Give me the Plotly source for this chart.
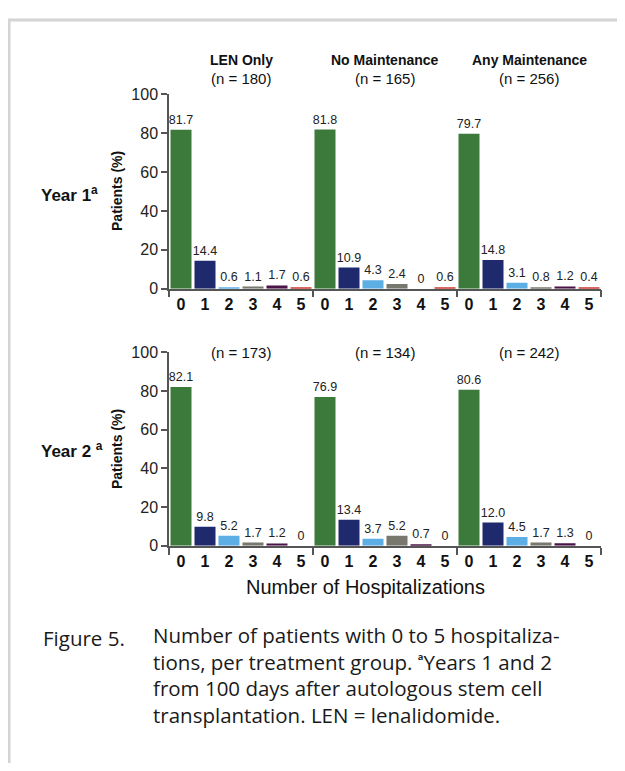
import plotly.graph_objects as go

# page body has an 8px default margin: figure is sized to fit the 625x771 window
OFF = 8
W, H = 625 - 2 * OFF, 771 - 2 * OFF

categories = ["0", "1", "2", "3", "4", "5"]
groups = ["LEN Only", "No Maintenance", "Any Maintenance"]
n_year1 = ["(n = 180)", "(n = 165)", "(n = 256)"]
n_year2 = ["(n = 173)", "(n = 134)", "(n = 242)"]

year1_len = [81.7, 14.4, 0.6, 1.1, 1.7, 0.6]
year1_nomaint = [81.8, 10.9, 4.3, 2.4, 0, 0.6]
year1_any = [79.7, 14.8, 3.1, 0.8, 1.2, 0.4]
year2_len = [82.1, 9.8, 5.2, 1.7, 1.2, 0]
year2_nomaint = [76.9, 13.4, 3.7, 5.2, 0.7, 0]
year2_any = [80.6, 12.0, 4.5, 1.7, 1.3, 0]

bar_colors = ["#3b7a3b", "#1f2a6e", "#5eaee6", "#78786f", "#4a1447", "#c8372d"]

CHART_FONT = "Liberation Sans Narrow, Arial Narrow, Liberation Sans, Arial, sans-serif"
CAP_FONT = "Open Sans, Lato, sans-serif"

def px_x(p):
    return (p - OFF) / W

def px_y(p):
    return 1 - (p - OFF) / H

fig = go.Figure()

rows = [
    ("x", "y", [year1_len, year1_nomaint, year1_any]),
    ("x2", "y2", [year2_len, year2_nomaint, year2_any]),
]
for xa, ya, series in rows:
    for g, vals in enumerate(series):
        fig.add_trace(go.Bar(
            x=[g * len(categories) + k for k in range(len(categories))],
            y=vals,
            xaxis=xa, yaxis=ya,
            marker=dict(color=bar_colors, line=dict(width=0)),
            text=[("0" if v == 0 else f"{v:.1f}") for v in vals],
            textposition="outside",
            constraintext="none",
            cliponaxis=False,
            textfont=dict(family=CHART_FONT, size=12.5, color="#222"),
            showlegend=False,
        ))

nb = len(groups) * len(categories)
xcommon = dict(
    range=[-0.5, nb - 0.5],
    tickmode="array",
    tickvals=list(range(nb)),
    ticktext=categories * len(groups),
    tickfont=dict(family=CHART_FONT, size=16, color="#111", weight="bold"),
    ticks="",
    showline=True, linecolor="#555", linewidth=1.5,
    showgrid=False, zeroline=False,
    minor=dict(tickmode="array",
               tickvals=[g * len(categories) - 0.5 for g in range(len(groups) + 1)],
               ticks="outside", ticklen=7, tickwidth=1.5, tickcolor="#555", showgrid=False),
    domain=[px_x(169), px_x(601)],
    fixedrange=True,
)
ycommon = dict(
    range=[0, 100],
    tickvals=[0, 20, 40, 60, 80, 100],
    tickfont=dict(family=CHART_FONT, size=16, color="#222"),
    ticks="outside", ticklen=6, tickwidth=1.5, tickcolor="#555",
    showline=True, linecolor="#555", linewidth=1.5,
    showgrid=False, zeroline=False,
    fixedrange=True,
)
fig.update_layout(
    width=W, height=H,
    margin=dict(l=0, r=0, t=0, b=0),
    paper_bgcolor="white", plot_bgcolor="white",
    bargap=0.125,
    barmode="overlay",
    xaxis=dict(xcommon, anchor="y"),
    yaxis=dict(ycommon, anchor="x", domain=[px_y(287), px_y(88)]),
    xaxis2=dict(xcommon, anchor="y2"),
    yaxis2=dict(ycommon, anchor="x2", domain=[px_y(550), px_y(352)]),
)

ann = []
centers = [241, 385, 529]
for i, g in enumerate(groups):
    ann.append(dict(text=f"<b>{g}</b>", x=px_x(centers[i]), y=px_y(53), xref="paper", yref="paper",
                    showarrow=False, font=dict(family=CHART_FONT, size=14, color="#111"),
                    xanchor="center", yanchor="middle"))
    ann.append(dict(text=n_year1[i], x=px_x(centers[i]), y=px_y(72), xref="paper", yref="paper",
                    showarrow=False, font=dict(family=CHART_FONT, size=15, color="#111"),
                    xanchor="center", yanchor="middle"))
    ann.append(dict(text=n_year2[i], x=px_x(centers[i]), y=px_y(352), xref="paper", yref="paper",
                    showarrow=False, font=dict(family=CHART_FONT, size=15, color="#111"),
                    xanchor="center", yanchor="middle"))

for label, yc in [("Year 1<sup>a</sup>", 190), ("Year 2 <sup>a</sup>", 452)]:
    ann.append(dict(text=f"<b>{label}</b>", x=px_x(39), y=px_y(yc), xref="paper", yref="paper",
                    showarrow=False, font=dict(family=CHART_FONT, size=17, color="#111"),
                    xanchor="left", yanchor="middle"))
for yc in [187, 451]:
    ann.append(dict(text="<b>Patients (%)</b>", x=px_x(117), y=px_y(yc), xref="paper", yref="paper",
                    showarrow=False, textangle=-90, font=dict(family=CHART_FONT, size=14, color="#111"),
                    xanchor="center", yanchor="middle"))

ann.append(dict(text="Number of Hospitalizations", x=px_x(366), y=px_y(592), xref="paper", yref="paper",
                showarrow=False, font=dict(family="Liberation Sans, Arial, sans-serif", size=20, color="#111"),
                xanchor="center", yanchor="middle"))

caption_lines = [
    "Number of patients with 0 to 5 hospitaliza-",
    "tions, per treatment group. \u1d43Years 1 and 2",
    "from 100 days after autologous stem cell",
    "transplantation. LEN = lenalidomide.",
]
ann.append(dict(text="Figure 5.", x=px_x(41), y=px_y(644), xref="paper", yref="paper",
                showarrow=False, font=dict(family=CAP_FONT, size=20.5, color="#1a1a1a"),
                xanchor="left", yanchor="middle"))
ann.append(dict(text="<br>".join(caption_lines), x=px_x(151), y=px_y(625), xref="paper", yref="paper",
                showarrow=False, align="left", font=dict(family=CAP_FONT, size=20.5, color="#1a1a1a"),
                xanchor="left", yanchor="top"))
fig.update_layout(annotations=ann)

fig.add_shape(type="rect", xref="paper", yref="paper",
              x0=px_x(9), y0=-0.05, x1=1.05, y1=px_y(12),
              line=dict(color="#d4d4d4", width=3), fillcolor="rgba(0,0,0,0)", layer="below")

fig.write_html("out.html")
